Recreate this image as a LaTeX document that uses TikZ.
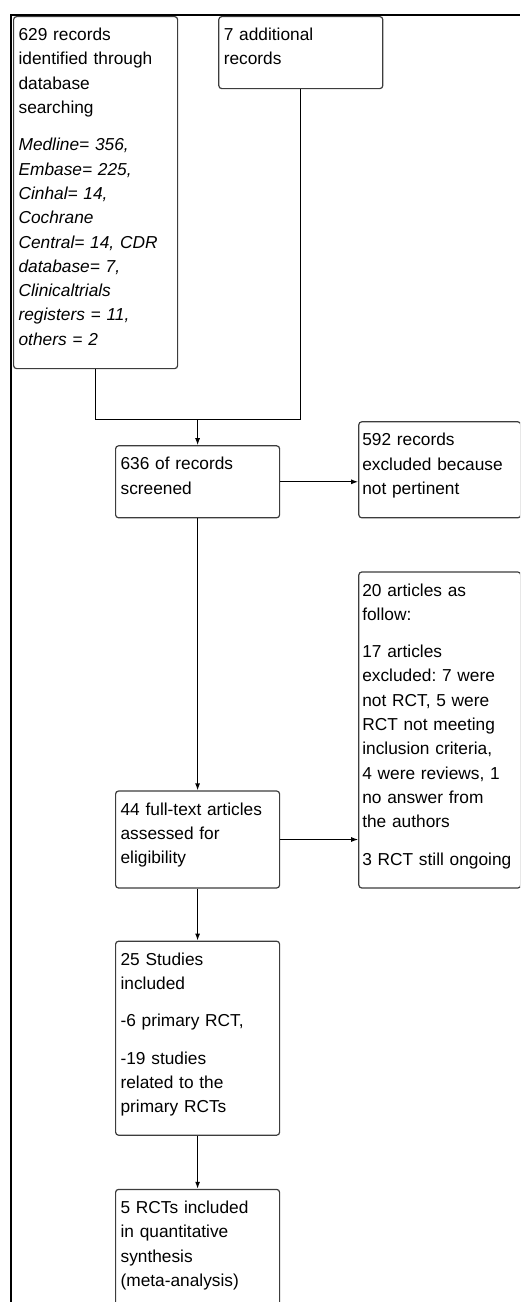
\documentclass[tikz,border=0pt]{standalone}
\usepackage{fontspec}
\setmainfont{Liberation Sans}
\usetikzlibrary{arrows.meta,positioning}
\definecolor{boxline}{RGB}{60,60,60}
\newcommand{\boxfont}{\fontsize{17.3}{24.3}\selectfont\frenchspacing\hyphenpenalty=10000\relax}

\begin{document}
\begin{tikzpicture}[x=1pt, y=1pt, line width=1.2pt, >={Latex[length=7pt,width=5pt]},
        box/.style={rectangle, draw=boxline, rounded corners=3pt, text width=154pt, inner xsep=5pt, inner ysep=0pt, align=left, text height=24pt, font=\boxfont},
        side/.style={box, text width=155pt, inner xsep=3.5pt}]
    \useasboundingbox (0,0) rectangle (520,-1302);
    \clip (0,0) rectangle (520,-1302);
    % page frame
    \draw [line width=2pt] (11,-1302) -- (11,-15) -- (520,-15);

    \node [box, anchor=north west, text depth=328pt] (db) at (13,-16) {629 records\\ identified through\\ database\\ searching\\[13pt]
        {\itshape Medline= 356,\\ Embase= 225,\\ Cinhal= 14,\\ Cochrane\\ Central= 14, CDR\\ database= 7,\\ Clinicaltrials\\ registers = 11,\\ others = 2}};
    \node [box, below right=0pt and 40pt of db.north east, text depth=48pt] (extra) {7 additional\\ records};
    \node [box, below right=76pt and 102pt of db.south west, text depth=48pt] (screen) {636 of records\\ screened};
    \node [side, above right=0pt and 78pt of screen.south east, text depth=72pt] (notpert) {592 records\\ excluded because\\ not pertinent};
    \node [box, below=272pt of screen, text depth=73pt] (fulltext) {44 full-text articles\\ assessed for\\ eligibility};
    \node [side, above right=0pt and 78pt of fulltext.south east, text depth=292pt] (excl) {20 articles as\\ follow:\\[13pt]
        17 articles\\ excluded: 7 were\\ not RCT, 5 were\\ RCT not meeting\\ inclusion criteria,\\ 4 were reviews, 1\\ no answer from\\ the authors\\[13pt]
        \mbox{3 RCT still ongoing}};
    \node [box, below=52pt of fulltext, text depth=170pt] (incl) {25 Studies\\ included\\[13pt] -6 primary RCT,\\[13pt] -19 studies\\ related to the\\ primary RCTs};
    \node [box, below=53pt of incl, text depth=150pt] (meta) {5 RCTs included\\ in quantitative\\ synthesis\\ (meta-analysis)};

    \coordinate [above=26pt of screen.north] (join);
    \draw (db.south) |- (join) -| (extra.south);
    \draw [->] (join) -- (screen);
    \draw [->] (screen.east) -- (screen.east -| notpert.west);
    \draw [->] (screen) -- (fulltext);
    \draw [->] (fulltext.east) -- (fulltext.east -| excl.west);
    \draw [->] (fulltext) -- (incl);
    \draw [->] (incl) -- (meta);
\end{tikzpicture}
\end{document}
